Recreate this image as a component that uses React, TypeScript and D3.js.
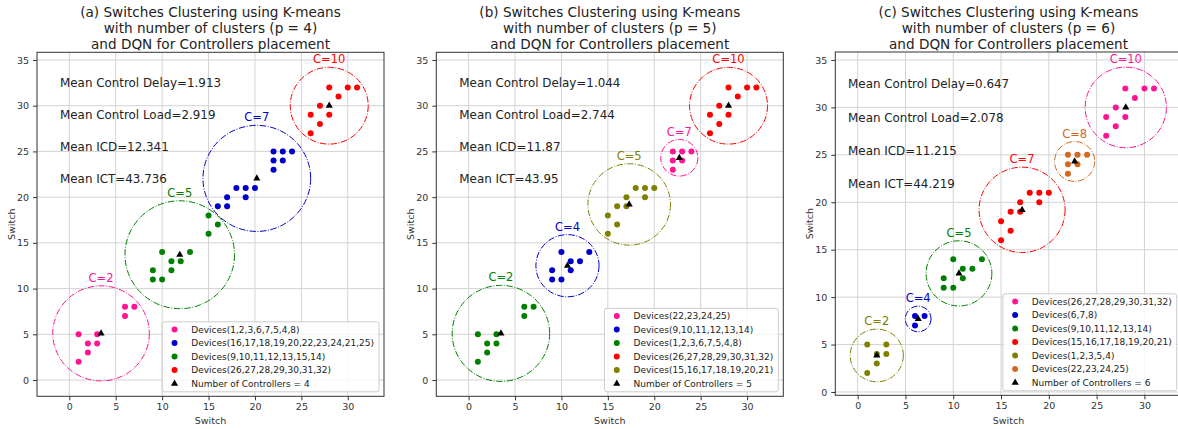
import React, { useEffect, useRef } from 'react';
import * as d3 from 'd3';

type Pt = [number, number];

// switch positions, grouped the way the clusterings split them
const lowLeft: Pt[] = [[1, 5], [3, 5], [2, 4], [3, 4], [2, 3], [1, 2]];
const lowRight: Pt[] = [[6, 8], [7, 8], [6, 7]];
const midBlock: Pt[] = [[9, 12], [9, 11], [10, 14], [10, 11], [11, 13], [11, 12], [12, 13], [13, 14]];
const bridge: Pt[] = [[15, 18], [16, 17], [15, 16]];
const stair: Pt[] = [[16, 19], [17, 19], [17, 20], [18, 21], [19, 21], [19, 20], [20, 21]];
const upperBlock: Pt[] = [[22, 25], [23, 25], [24, 25], [22, 24], [23, 24], [22, 23]];
const topBlock: Pt[] = [[26, 27], [26, 29], [27, 28], [27, 30], [28, 29], [28, 32], [29, 31], [30, 32], [31, 32]];

const PINK = '#ff1493';
const BLUE = '#0000cd';
const GREEN = '#008000';
const RED = '#ff0000';
const OLIVE = '#808000';
const ORANGE = '#d2691e';

const xTicks = [0, 5, 10, 15, 20, 25, 30];
const yTicks = [0, 5, 10, 15, 20, 25, 30, 35];

const titleP4 = ['(a) Switches Clustering using K-means', 'with number of clusters (p = 4)', 'and DQN for Controllers placement'];
const titleP5 = ['(b) Switches Clustering using K-means', 'with number of clusters (p = 5)', 'and DQN for Controllers placement'];
const titleP6 = ['(c) Switches Clustering using K-means', 'with number of clusters (p = 6)', 'and DQN for Controllers placement'];

const statsP4 = ['Mean Control Delay=1.913', 'Mean Control Load=2.919', 'Mean ICD=12.341', 'Mean ICT=43.736'];
const statsP5 = ['Mean Control Delay=1.044', 'Mean Control Load=2.744', 'Mean ICD=11.87', 'Mean ICT=43.95'];
const statsP6 = ['Mean Control Delay=0.647', 'Mean Control Load=2.078', 'Mean ICD=11.215', 'Mean ICT=44.219'];

// clusters in legend order
const clustersP4 = [
  { name: 'C=2', color: PINK, points: [...lowLeft, ...lowRight], ctrl: [3.42, 5.1], radius: 5.2, legend: 'Devices(1,2,3,6,7,5,4,8)' },
  { name: 'C=7', color: BLUE, points: [...stair, ...upperBlock], ctrl: [20.2, 22.05], radius: 5.8, legend: 'Devices(16,17,18,19,20,22,23,24,21,25)' },
  { name: 'C=5', color: GREEN, points: [...midBlock, ...bridge], ctrl: [11.9, 13.7], radius: 5.9, legend: 'Devices(9,10,11,12,13,15,14)' },
  { name: 'C=10', color: RED, points: topBlock, ctrl: [28, 30], radius: 4.2, legend: 'Devices(26,27,28,29,30,31,32)' },
];
const clustersP5 = [
  { name: 'C=7', color: PINK, points: upperBlock, ctrl: [22.7, 24.3], radius: 2.0, legend: 'Devices(22,23,24,25)' },
  { name: 'C=4', color: BLUE, points: midBlock, ctrl: [10.65, 12.5], radius: 3.4, legend: 'Devices(9,10,11,12,13,14)' },
  { name: 'C=2', color: GREEN, points: [...lowLeft, ...lowRight], ctrl: [3.48, 5.1], radius: 5.25, legend: 'Devices(1,2,3,6,7,5,4,8)' },
  { name: 'C=10', color: RED, points: topBlock, ctrl: [28, 30], radius: 4.2, legend: 'Devices(26,27,28,29,30,31,32)' },
  { name: 'C=5', color: OLIVE, points: [...bridge, ...stair], ctrl: [17.3, 19.2], radius: 4.45, legend: 'Devices(15,16,17,18,19,20,21)' },
];
const clustersP6 = [
  { name: 'C=10', color: PINK, points: topBlock, ctrl: [28.05, 30], radius: 4.25, legend: 'Devices(26,27,28,29,30,31,32)' },
  { name: 'C=4', color: BLUE, points: lowRight, ctrl: [6.33, 7.7], radius: 1.35, legend: 'Devices(6,7,8)' },
  { name: 'C=5', color: GREEN, points: midBlock, ctrl: [10.6, 12.5], radius: 3.44, legend: 'Devices(9,10,11,12,13,14)' },
  { name: 'C=7', color: RED, points: [...bridge, ...stair], ctrl: [17.2, 19.2], radius: 4.5, legend: 'Devices(15,16,17,18,19,20,21)' },
  { name: 'C=2', color: OLIVE, points: lowLeft, ctrl: [2, 3.85], radius: 2.78, legend: 'Devices(1,2,3,5,4)' },
  { name: 'C=8', color: ORANGE, points: upperBlock, ctrl: [22.7, 24.3], radius: 2.1, legend: 'Devices(22,23,24,25)' },
];

const FONT = 'DejaVu Sans';

const App = () => {
  const ref = useRef<SVGSVGElement>(null);

  useEffect(() => {
    const svg = d3.select(ref.current);
    svg.selectAll('*').remove();

    const panels = [
      { title: titleP4, stats: statsP4, clusters: clustersP4, box: [37, 384, 52.3, 396.3], xd: [-3.48, 33.9], yd: [-1.78, 35.84] },
      { title: titleP5, stats: statsP5, clusters: clustersP5, box: [436.3, 783.3, 52.3, 396.3], xd: [-3.48, 33.9], yd: [-1.78, 35.84] },
      { title: titleP6, stats: statsP6, clusters: clustersP6, box: [835.3, 1181.7, 52, 395.3], xd: [-2.34, 33.9], yd: [-0.35, 35.84] },
    ];

    panels.forEach(p => {
      const [left, right, top, bottom] = p.box;
      const x = d3.scaleLinear().domain(p.xd).range([left, right]);
      const y = d3.scaleLinear().domain(p.yd).range([bottom, top]);
      const g = svg.append('g');
      const cx = (left + right) / 2;

      // grid
      g.selectAll('.gx').data(xTicks).enter().append('line')
        .attr('x1', d => x(d)).attr('x2', d => x(d)).attr('y1', top).attr('y2', bottom)
        .attr('stroke', '#d3d3d3').attr('stroke-width', 1);
      g.selectAll('.gy').data(yTicks).enter().append('line')
        .attr('x1', left).attr('x2', right).attr('y1', d => y(d)).attr('y2', d => y(d))
        .attr('stroke', '#d3d3d3').attr('stroke-width', 1);

      // axes
      const ax = g.append('g').attr('transform', `translate(0,${bottom})`)
        .call(d3.axisBottom(x).tickValues(xTicks).tickSize(4).tickPadding(3).tickFormat(d3.format('d')));
      const ay = g.append('g').attr('transform', `translate(${left},0)`)
        .call(d3.axisLeft(y).tickValues(yTicks).tickSize(4).tickPadding(4).tickFormat(d3.format('d')));
      [ax, ay].forEach(a => {
        a.select('.domain').remove();
        a.selectAll('line').attr('stroke', '#333');
        a.selectAll('text').attr('fill', '#333').style('font-family', FONT).style('font-size', '9.5px');
      });

      g.append('rect').attr('x', left).attr('y', top).attr('width', right - left).attr('height', bottom - top)
        .attr('fill', 'none').attr('stroke', '#333').attr('stroke-width', 1);

      // axis titles
      g.append('text').attr('x', cx).attr('y', 424).attr('text-anchor', 'middle')
        .style('font-family', FONT).style('font-size', '9.5px').attr('fill', '#333').text('Switch');
      g.append('text').attr('transform', `translate(${left - 22},${(top + bottom) / 2}) rotate(-90)`)
        .attr('text-anchor', 'middle').style('font-family', FONT).style('font-size', '9.5px').attr('fill', '#333').text('Switch');

      // title
      p.title.forEach((t, i) => {
        g.append('text').attr('x', cx).attr('y', 17 + i * 16).attr('text-anchor', 'middle')
          .style('font-family', FONT).style('font-size', '13.6px').attr('fill', '#222').text(t);
      });

      // stats
      const statY = [32, 28.5, 25, 21.5];
      p.stats.forEach((t, i) => {
        g.append('text').attr('x', x(-1)).attr('y', y(statY[i]))
          .style('font-family', FONT).style('font-size', '11.9px').attr('fill', '#222').text(t);
      });

      // clusters
      p.clusters.forEach(c => {
        const rx = x(c.ctrl[0] + c.radius) - x(c.ctrl[0]);
        const ry = y(c.ctrl[1]) - y(c.ctrl[1] + c.radius);
        g.append('ellipse').attr('cx', x(c.ctrl[0])).attr('cy', y(c.ctrl[1]))
          .attr('rx', rx).attr('ry', ry).attr('fill', 'none').attr('stroke', c.color)
          .attr('stroke-width', 1).attr('stroke-dasharray', '6.4,1.6,1,1.6');
        g.append('text').attr('x', x(c.ctrl[0])).attr('y', y(c.ctrl[1] + c.radius) - 4)
          .attr('text-anchor', 'middle').style('font-family', FONT).style('font-size', '11.5px')
          .attr('fill', c.color).text(c.name);
        g.selectAll(null).data(c.points).enter().append('circle')
          .attr('cx', d => x(d[0])).attr('cy', d => y(d[1])).attr('r', 3).attr('fill', c.color);
      });
      const tri = d3.symbol().type(d3.symbolTriangle).size(22);
      p.clusters.forEach(c => {
        g.append('path').attr('d', tri()).attr('fill', '#000')
          .attr('transform', `translate(${x(c.ctrl[0])},${y(c.ctrl[1])})`);
      });

      // legend
      const rowH = 13.5;
      const nRows = p.clusters.length + 1;
      const boxH = (nRows - 1) * rowH + 16;
      const leg = g.append('g');
      const bg = leg.append('rect').attr('fill', 'white').attr('fill-opacity', 0.8)
        .attr('stroke', '#ccc').attr('stroke-width', 1).attr('rx', 2.5);
      const labels = [...p.clusters.map(c => c.legend), `Number of Controllers = ${p.clusters.length}`];
      const texts = labels.map((t, i) => leg.append('text').attr('x', 29).attr('y', 7.8 + i * rowH + 3.3)
        .style('font-family', FONT).style('font-size', '9px').attr('fill', '#222').text(t));
      p.clusters.forEach((c, i) => {
        leg.append('circle').attr('cx', 12.3).attr('cy', 7.8 + i * rowH).attr('r', 3).attr('fill', c.color);
      });
      leg.append('path').attr('d', tri()).attr('fill', '#000')
        .attr('transform', `translate(12.3,${7.8 + p.clusters.length * rowH})`);
      const maxW = d3.max(texts, t => (t.node() as SVGTextElement).getComputedTextLength()) || 150;
      const boxW = 29 + maxW + 5;
      bg.attr('width', boxW).attr('height', boxH);
      leg.attr('transform', `translate(${right - 5 - boxW},${bottom - 4.5 - boxH})`);
    });
  }, []);

  return (
    <svg ref={ref} width={1178} height={429}
      style={{ position: 'absolute', left: 0, top: 0, background: 'white' }} />
  );
};

export default App;
